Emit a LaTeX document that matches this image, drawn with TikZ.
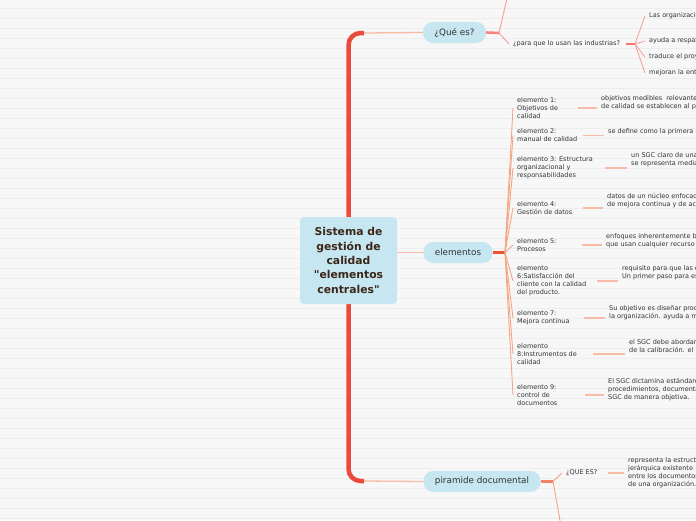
\documentclass[tikz,border=0pt]{standalone}
\usepackage{fontspec}
\setmainfont{DejaVu Sans}
\pgfdeclarelayer{bg}
\pgfdeclarelayer{links}
\pgfsetlayers{bg,links,main}

\definecolor{paper}{HTML}{F7F7F7}
\definecolor{rule}{HTML}{EDEDED}
\definecolor{trunkred}{HTML}{EA4A3C}
\definecolor{bubble}{HTML}{C6E6F1}
\definecolor{ink}{HTML}{333333}
\definecolor{rootink}{HTML}{3B2618}
\definecolor{pinkline}{HTML}{F5A5A0}
\definecolor{fanline}{HTML}{F6A583}
\definecolor{leafline}{HTML}{F8BCA6}

\tikzset{
  rootbox/.style={fill=bubble, rounded corners=4pt, minimum width=97pt, minimum height=87pt,
    inner sep=0pt, align=center, text=rootink, font=\bfseries\fontsize{10.8}{14.3}\selectfont},
  pill/.style={fill=bubble, rounded corners=10pt, minimum height=21pt, inner xsep=11.5pt,
    text=ink, font=\fontsize{8.8}{10}\selectfont},
  smalltxt/.style={anchor=west, inner xsep=4pt, inner ysep=0pt, align=left, text=ink,
    font=\fontsize{6.5}{8}\selectfont},
  trunk/.style={draw=trunkred, line width=4.5pt},
  thinlink/.style={draw=leafline, line width=1.3pt},
  stub/.style={line width=2.6pt},
  fan/.style={draw=fanline, line width=0.9pt},
  leaf/.style={draw=leafline, line width=1.2pt},
}

\begin{document}
\begin{tikzpicture}[x=1pt,y=-1pt]
  \useasboundingbox (0,0) rectangle (696,520);
  \clip (0,0) rectangle (696,520);

  \begin{pgfonlayer}{bg}
    \fill[paper] (0,0) rectangle (696,520);
    \foreach \k in {0,...,51}
      \draw[rule, line width=1pt] (0,8.5+10*\k) -- (696,8.5+10*\k);
  \end{pgfonlayer}

  % main nodes
  \node[rootbox] (root) at (348.5,260.5) {Sistema de\\gestión de\\calidad\\ \textquotedbl elementos\\centrales\textquotedbl};
  \node[pill] (que) at (454.5,32.5) {¿Qué es?};
  \node[pill] (elem) at (458,252.5) {elementos};
  \node[pill] (pira) at (482,481.5) {piramide documental};

  \coordinate (qa) at (364,33);
  \coordinate (pa) at (364,481);

  % ¿Qué es?
  \coordinate (qj) at (499,33);
  \coordinate (qup) at (508,-6);
  \node[smalltxt] (para) at (509,44) {¿para que lo usan las industrias?};
  \coordinate (pj) at (635,44);
  \node[smalltxt] (p1) at (645,16) {Las organizaciones};
  \node[smalltxt] (p2) at (645,41) {ayuda a respaldar};
  \node[smalltxt] (p3) at (645,57) {traduce el proyecto};
  \node[smalltxt] (p4) at (645,73) {mejoran la entrega};

  % elementos
  \coordinate (ej) at (505,252.5);
  \node[smalltxt] (e1) at (513,108) {elemento 1:\\Objetivos de\\calidad};
  \node[smalltxt] (e2) at (513,135.5) {elemento 2:\\manual de calidad};
  \node[smalltxt] (e3) at (513,168) {elemento 3: Estructura\\organizacional y\\responsabilidades};
  \node[smalltxt] (e4) at (513,208) {elemento 4:\\Gestión de datos};
  \node[smalltxt] (e5) at (513,245) {elemento 5:\\Procesos};
  \node[smalltxt] (e6) at (513,281) {elemento\\6:Satisfacción del\\cliente con la calidad\\del producto.};
  \node[smalltxt] (e7) at (513,318) {elemento 7:\\Mejora continua};
  \node[smalltxt] (e8) at (513,354) {elemento\\8:Instrumentos de\\calidad};
  \node[smalltxt] (e9) at (513,395) {elemento 9:\\control de\\documentos};

  \node[smalltxt] (d1) at (597,103) {objetivos medibles\ \ relevantes\\de calidad se establecen al principio};
  \node[smalltxt] (d2) at (604,131.5) {se define como la primera etapa};
  \node[smalltxt] (d3) at (627,160) {un SGC claro de una\\se representa mediante};
  \node[smalltxt] (d4) at (603,201) {datos de un núcleo enfocado\\de mejora continua y de acción};
  \node[smalltxt] (d5) at (602,240.5) {enfoques inherentemente basados\\que usan cualquier recurso de};
  \node[smalltxt] (d6) at (618,273) {requisito para que las empresas\\Un primer paso para establecer};
  \node[smalltxt] (d7) at (605,313) {Su objetivo es diseñar procesos\\la organización. ayuda a mejorar};
  \node[smalltxt] (d8) at (625,346) {el SGC debe abordar los\\de la calibración. el};
  \node[smalltxt] (d9) at (604,390) {El SGC dictamina estándares\\procedimientos, documentación\\SGC de manera objetiva.};

  % piramide documental
  \coordinate (yj) at (553,481.5);
  \coordinate (ydown) at (561,526);
  \node[smalltxt] (ques) at (562,473) {¿QUE ES?};
  \node[smalltxt] (dq) at (624,472.5) {representa la estructura\\jerárquica existente\\entre los documentos\\de una organización.};

  \begin{pgfonlayer}{links}
    \draw[trunk, rounded corners=12pt] (root.center) |- (qa);
    \draw[trunk, rounded corners=12pt] (root.center) |- (pa);
    \draw[thinlink] (qa) -- (que.west);
    \draw[thinlink] (pa) -- (pira.west);
    \draw[thinlink] (root.east |- elem) -- (elem.west);

    \draw[stub, draw=pinkline!80!red] (que.east) -- (qj);
    \draw[draw=pinkline, line width=1pt] (qj) -- (qup);
    \draw[draw=pinkline, line width=1pt] (qj) -- (para.west);
    \draw[stub, draw=pinkline!70!red] ([xshift=2pt]para.east) -- (pj);
    \foreach \p in {p1,p2,p3,p4}
      \draw[draw=pinkline, line width=0.9pt] (pj) -- (\p.west);

    \draw[stub, draw=trunkred!85!orange] (elem.east) -- (ej);
    \foreach \e in {e1,e2,e3,e4,e5,e6,e7,e8,e9}
      \draw[fan] (ej) -- (\e.west);
    \foreach \e/\d/\s in {e1/d1/16,e2/d2/2,e3/d3/8,e4/d4/6,e5/d5/21,e6/d6/7,e7/d7/10,e8/d8/12,e9/d9/23}
      \draw[leaf] ([xshift=\s pt]\e.east) -- (\d.west |- \e.east);

    \draw[stub, draw=fanline!60!trunkred] (pira.east) -- (yj);
    \draw[fan] (yj) -- (ques.west);
    \draw[fan] (yj) -- (ydown);
    \draw[leaf] ([xshift=6pt]ques.east) -- (dq.west |- ques.east);
  \end{pgfonlayer}
\end{tikzpicture}
\end{document}
